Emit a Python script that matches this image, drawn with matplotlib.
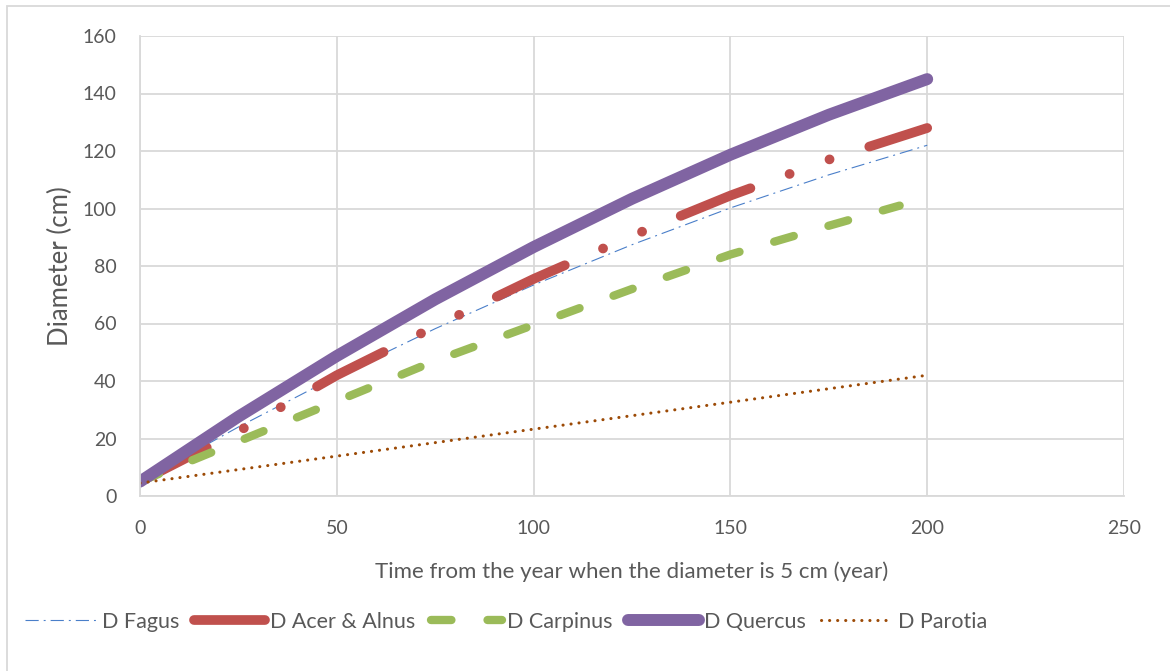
import matplotlib
matplotlib.use("Agg")
import matplotlib.pyplot as plt
from matplotlib.patches import Rectangle

plt.rcParams['font.family'] = ['Lato', 'DejaVu Sans']
plt.rcParams['lines.scale_dashes'] = False

# ---- data ----
years = [0, 25, 50, 75, 100, 125, 150, 175, 200]
d_fagus = [5, 24.0, 41.7, 58.2, 73.4, 87.4, 100.2, 111.7, 122]
d_acer = [5, 22.5, 42, 59, 75.5, 90.5, 104.5, 117, 128]
d_quercus = [5, 27.6, 48.7, 68.4, 86.6, 103.4, 118.7, 132.6, 145]
years_carp = [0, 25, 50, 75, 100, 125, 150, 175, 193]
d_carpinus = [5, 19, 33, 47, 59.5, 72, 84, 94, 101]
years_par = [0, 200]
d_parotia = [4.5, 42]

xticks = [0, 50, 100, 150, 200, 250]
yticks = [0, 20, 40, 60, 80, 100, 120, 140, 160]

W, H = 1170, 671
fig = plt.figure(figsize=(W / 100, H / 100), dpi=100)
ax = fig.add_axes([140 / W, 1 - 496 / H, (1124 - 140) / W, (496 - 36) / H])

txt = '#595959'
grid = '#d9d9d9'

l1, = ax.plot(years, d_fagus, color='#4a7fc9', lw=0.8, label='D Fagus',
              dashes=[9.5, 3.6, 1.4, 3.6], solid_capstyle='butt')
l2, = ax.plot(years, d_acer, color='#c0504d', lw=7, label='D Acer & Alnus',
              dash_capstyle='round', solid_capstyle='round')
l2.set_dashes([54, 30, 0.1, 30.5, 0.1, 30])
l3, = ax.plot(years_carp, d_carpinus, color='#9bbb59', lw=6, label='D Carpinus',
              dash_capstyle='round')
l3.set_dashes([14.7, 26])
l4, = ax.plot(years, d_quercus, color='#8064a2', lw=8.6, label='D Quercus',
              solid_capstyle='round')
l5, = ax.plot(years_par, d_parotia, color='#9c4a06', lw=2.2, label='D Parotia',
              dash_capstyle='round')
l5.set_dashes([0.1, 5.7])

ax.set_xlim(0, 250)
ax.set_ylim(0, 160)
ax.set_xticks(xticks)
ax.set_yticks(yticks)
ax.grid(True, color=grid, lw=1.3)
ax.set_axisbelow(True)
for s in ['top', 'right']:
    ax.spines[s].set_visible(False)
for s in ['left', 'bottom']:
    ax.spines[s].set_color(grid)
    ax.spines[s].set_linewidth(1.3)
ax.tick_params(length=0, labelsize=14, colors=txt)
ax.tick_params(axis='x', pad=17)
ax.tick_params(axis='y', pad=17)

ax.set_xlabel('Time from the year when the diameter is 5 cm (year)', fontsize=16,
              color=txt, va='center')
ax.xaxis.set_label_coords(0.5, (496 - 572) / 460)
ax.set_ylabel('Diameter (cm)', fontsize=18.5, color=txt, va='center')
ax.yaxis.set_label_coords((60 - 140) / 984, 0.5)

fig.legend(handles=[l1, l2, l3, l4, l5], loc='center', bbox_to_anchor=(506 / W, 1 - 622 / H),
           ncol=5, frameon=False, fontsize=15.5, handlelength=3.3, handletextpad=0.25,
           columnspacing=0.7, labelcolor=txt)

fig.patches.append(Rectangle((6.5 / W, -0.05), 1, 1.05 - 6.5 / H, transform=fig.transFigure,
                             fill=False, edgecolor=grid, lw=1.3))

fig.savefig('out.png', dpi=100, facecolor='white')
